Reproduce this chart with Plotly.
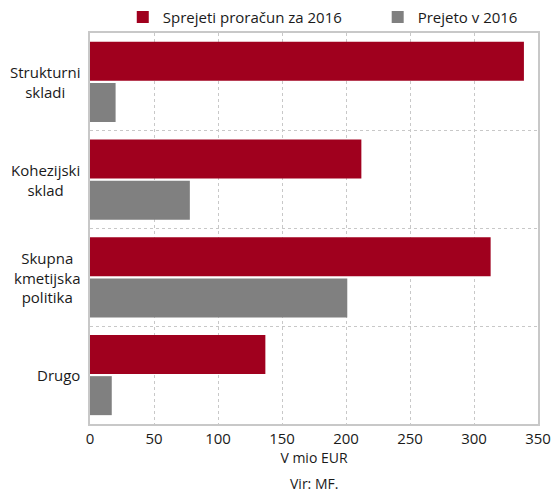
import plotly.graph_objects as go

# EU funds for Slovenia, 2016 (EUR million)
categories = ["Strukturni skladi", "Kohezijski sklad", "Skupna kmetijska politika", "Drugo"]
category_labels = ["Strukturni<br>skladi", "Kohezijski<br>sklad", "Skupna<br>kmetijska<br>politika", "Drugo"]
budget_2016 = [339, 212, 313, 137]
received_2016 = [20, 78, 201, 17]
series_names = ["Sprejeti proračun za 2016", "Prejeto v 2016"]
x_ticks = [0, 50, 100, 150, 200, 250, 300, 350]

FONT = "Open Sans"
TEXT = "#1a1a1a"
RED = "#A0001E"
GREY = "#808080"

fig = go.Figure()
fig.add_trace(go.Bar(y=categories, x=budget_2016, orientation="h", legend="legend",
                     name=series_names[0], showlegend=True,
                     marker=dict(color=RED, line=dict(width=0))))
fig.add_trace(go.Bar(y=categories, x=received_2016, orientation="h", legend="legend2",
                     name=series_names[1], showlegend=True,
                     marker=dict(color=GREY, line=dict(width=0))))

# centred multi-line category labels
for cat, lab in zip(categories, category_labels):
    fig.add_annotation(x=0, xref="paper", xanchor="right", xshift=-8,
                       y=cat, yref="y", text=lab, showarrow=False, align="center",
                       font=dict(family=FONT, size=15, color=TEXT))

fig.add_annotation(x=0.5, xref="paper", y=0, yref="paper", yshift=-48,
                   yanchor="top", text="Vir: MF.", showarrow=False,
                   font=dict(family=FONT, size=14, color=TEXT))

legend_common = dict(orientation="h", yref="container", y=0.965, yanchor="middle",
                     xref="container", xanchor="left", font=dict(size=15, color=TEXT),
                     bgcolor="rgba(0,0,0,0)", borderwidth=0, itemwidth=30)

fig.update_layout(
    width=553, height=496, showlegend=True,
    margin=dict(l=90, r=15, t=33, b=72, autoexpand=False),
    paper_bgcolor="white", plot_bgcolor="white",
    barmode="group", bargap=0.16, bargroupgap=0.05,
    font=dict(family=FONT, size=15, color=TEXT),
    legend=dict(x=0.222, **legend_common),
    legend2=dict(x=0.683, **legend_common),
    xaxis=dict(range=[0, 350], tickvals=x_ticks, showgrid=True,
               gridcolor="#c8c8c8", griddash="dot", gridwidth=1,
               showline=True, linecolor="#c8c8c8", linewidth=1.5, mirror=True,
               zeroline=False, ticks="", tickfont=dict(size=15),
               title=dict(text="V mio EUR", font=dict(size=14), standoff=2)),
    yaxis=dict(autorange="reversed", showticklabels=False, ticks="",
               tickson="boundaries", showgrid=True, gridcolor="#c8c8c8",
               griddash="dot", gridwidth=1,
               showline=True, linecolor="#c8c8c8", linewidth=1.5, mirror=True),
)

fig.write_html("out.html")
